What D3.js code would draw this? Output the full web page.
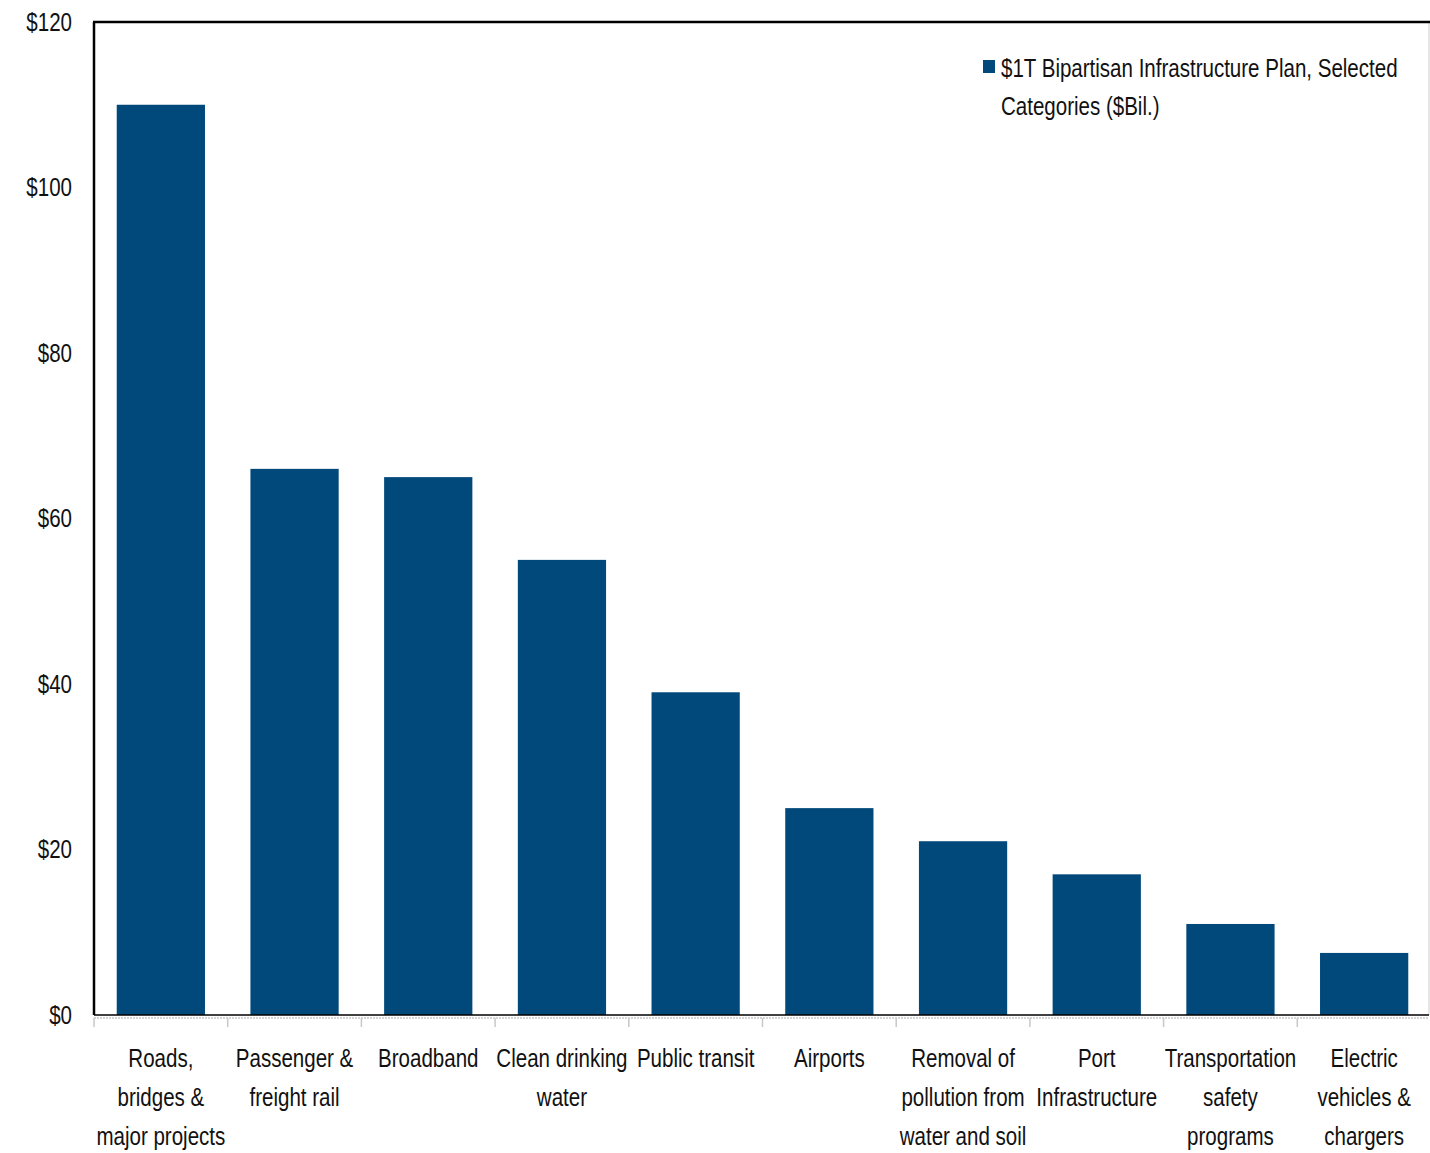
<!DOCTYPE html>
<html>
<head>
<meta charset="utf-8">
<script src="https://cdn.jsdelivr.net/npm/d3@7"></script>
<style>
  html, body { margin: 0; padding: 0; background: #fff; }
  svg { display: block; }
  text { font-family: "Liberation Sans", Arial, sans-serif; fill: #111; }
</style>
</head>
<body>
<svg id="chart" width="1430" height="1153"></svg>
<script>
const categories = [
  ["Roads,", "bridges &", "major projects"],
  ["Passenger &", "freight rail"],
  ["Broadband"],
  ["Clean drinking", "water"],
  ["Public transit"],
  ["Airports"],
  ["Removal of", "pollution from", "water and soil"],
  ["Port", "Infrastructure"],
  ["Transportation", "safety", "programs"],
  ["Electric", "vehicles &", "chargers"]
];
const values = [110, 66, 65, 55, 39, 25, 21, 17, 11, 7.5];
const yTicks = [0, 20, 40, 60, 80, 100, 120];
const seriesName = ["$1T Bipartisan Infrastructure Plan, Selected", "Categories ($Bil.)"];

(function () {
const svg = d3.select("#chart");
const mLeft = 94, mRight = 1429, mTop = 22, mBottom = 1015, bandRight = 1431;
const color = "#00497A";
const FS = 26.5, SX = 0.775;

const x = d3.scaleBand().domain(d3.range(categories.length)).range([mLeft, bandRight]).paddingInner(0.34).paddingOuter(0.17);
const y = d3.scaleLinear().domain([0, 120]).range([mBottom, mTop]);

// bars
svg.append("g").selectAll("rect").data(values).join("rect")
  .attr("x", (d, i) => x(i))
  .attr("width", x.bandwidth())
  .attr("y", d => y(d))
  .attr("height", d => y(0) - y(d))
  .attr("fill", color);

// frame
svg.append("line").attr("x1", mRight).attr("x2", mRight).attr("y1", mTop).attr("y2", mBottom).attr("stroke", "#ccc").attr("stroke-width", 1);
svg.append("line").attr("x1", mLeft - 1).attr("x2", mRight + 1).attr("y1", mTop).attr("y2", mTop).attr("stroke", "#000").attr("stroke-width", 2.5);
svg.append("line").attr("x1", mLeft).attr("x2", mLeft).attr("y1", mTop).attr("y2", mBottom).attr("stroke", "#000").attr("stroke-width", 2.5);
svg.append("line").attr("x1", mLeft).attr("x2", mRight).attr("y1", mBottom).attr("y2", mBottom).attr("stroke", "#000").attr("stroke-width", 1.5);

// lower x-axis (grey dotted with boundary ticks)
const bounds = d3.range(categories.length).map(i => x(i) - x.step() * x.paddingOuter());
svg.append("line").attr("x1", mLeft).attr("x2", mRight).attr("y1", mBottom + 3).attr("y2", mBottom + 3)
  .attr("stroke", "#c8c8c8").attr("stroke-width", 1.5).attr("stroke-dasharray", "2,1");
svg.append("g").selectAll("line").data(bounds).join("line")
  .attr("x1", d => d).attr("x2", d => d).attr("y1", mBottom + 3).attr("y2", mBottom + 12)
  .attr("stroke", "#c8c8c8").attr("stroke-width", 1.5);

// y-axis labels
const yAxis = d3.axisLeft(y).tickValues(yTicks).tickSize(0).tickPadding(0).tickFormat(d => "$" + d);
const gy = svg.append("g").attr("transform", `translate(72,0)`).call(yAxis);
gy.select(".domain").remove();
gy.selectAll("text").attr("font-size", FS).attr("fill", "#111")
  .style("font-family", '"Liberation Sans", Arial, sans-serif')
  .attr("transform", `scale(${SX},1)`);

// x labels
const gx = svg.append("g");
categories.forEach((lines, i) => {
  const cx = x(i) + x.bandwidth() / 2;
  lines.forEach((ln, j) => {
    gx.append("text")
      .attr("transform", `translate(${cx},${1067 + j * 39}) scale(${SX},1)`)
      .attr("text-anchor", "middle").attr("font-size", FS).text(ln);
  });
});

// legend
const lg = svg.append("g");
lg.append("rect").attr("x", 983).attr("y", 60).attr("width", 12).attr("height", 13).attr("fill", color);
seriesName.forEach((ln, j) => {
  lg.append("text")
    .attr("transform", `translate(1001,${77 + j * 38}) scale(${SX},1)`)
    .attr("font-size", FS).text(ln);
});
})();
</script>
</body>
</html>
